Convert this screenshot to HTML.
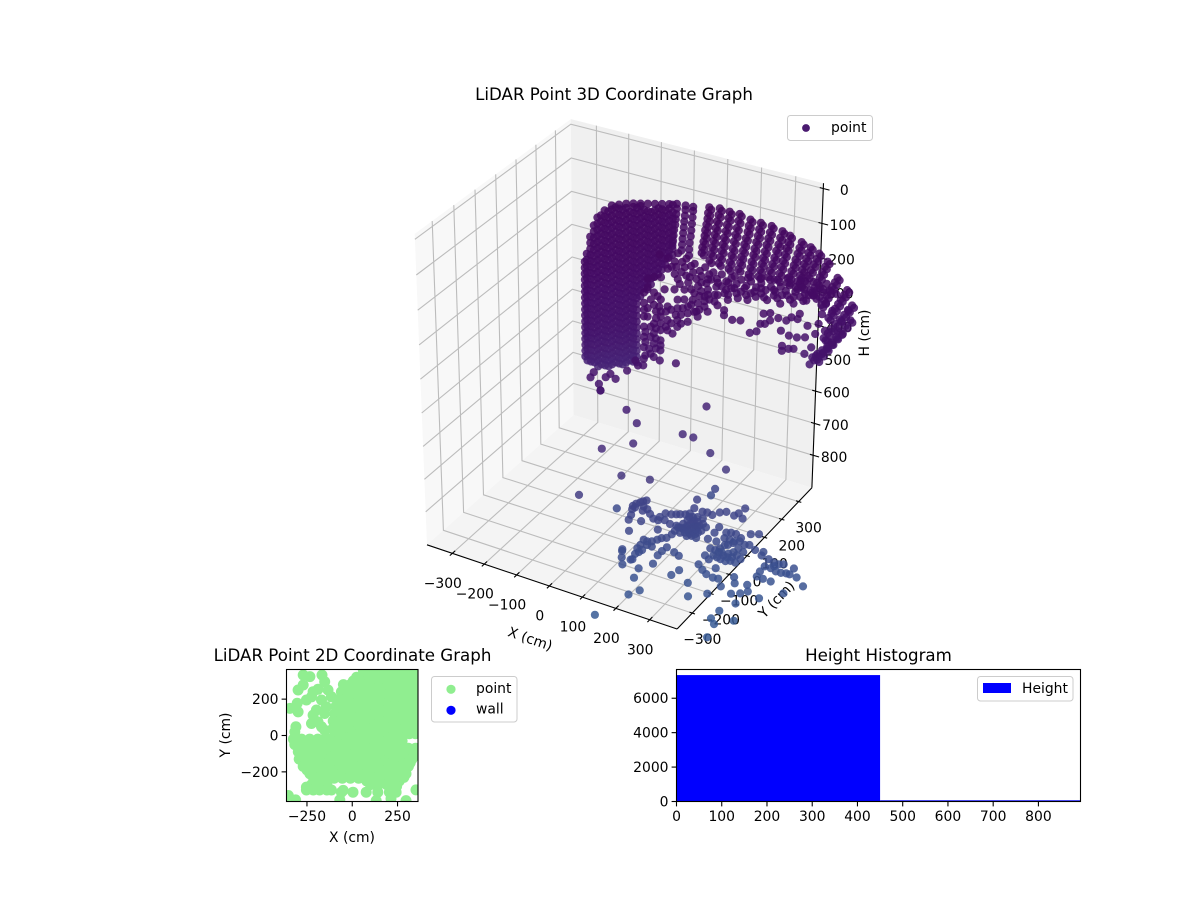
<!DOCTYPE html>
<html lang="en">
<head>
<meta charset="utf-8">
<title>LiDAR Point Graphs</title>
<style>
html,body{margin:0;padding:0;background:#fff;width:1200px;height:900px;overflow:hidden}
svg{display:block}
text{font-family:"DejaVu Sans","Liberation Sans",sans-serif;fill:#000}
.t{font-size:13.9px}
.h{font-size:16.67px}
</style>
</head>
<body>
<svg id="fig" xmlns="http://www.w3.org/2000/svg" width="1200" height="900" viewBox="0 0 1200 900">
<rect width="1200" height="900" fill="#fff"/>
<g id="panes3d"></g>
<g id="grid3d"></g>
<g id="axes3d"></g>
<text class="h" x="614" y="100" text-anchor="middle">LiDAR Point 3D Coordinate Graph</text>
<text class="t" text-anchor="middle" dominant-baseline="central" transform="translate(530 639.5) rotate(19)">X (cm)</text>
<text class="t" text-anchor="middle" dominant-baseline="central" transform="translate(777 600) rotate(-46)">Y (cm)</text>
<text class="t" text-anchor="middle" dominant-baseline="central" transform="translate(865 333) rotate(-90)">H (cm)</text>
<g id="points3d"></g>
<g>
<rect x="787.5" y="115.5" width="85" height="25" rx="3" fill="#fff" fill-opacity=".8" stroke="#ccc"/>
<circle cx="806" cy="128" r="3.9" fill="#4a1a70"/>
<text class="t" x="831" y="132">point</text>
</g>

<text class="h" x="352.5" y="661" text-anchor="middle">LiDAR Point 2D Coordinate Graph</text>
<defs><clipPath id="planClip"><rect x="286" y="669.5" width="132" height="132"/></clipPath></defs>
<g id="plan"></g>
<text class="t" x="352" y="842" text-anchor="middle">X (cm)</text>
<text class="t" text-anchor="middle" transform="translate(230 735) rotate(-90)">Y (cm)</text>
<g>
<rect x="431.5" y="676.5" width="85.5" height="45.5" rx="3" fill="#fff" stroke="#ccc"/>
<circle cx="451" cy="689.3" r="4.6" fill="#90ee90"/>
<text class="t" x="476" y="693">point</text>
<circle cx="451" cy="710.3" r="4.6" fill="#0000ff"/>
<text class="t" x="476" y="713.5">wall</text>
</g>

<text class="h" x="878.5" y="661" text-anchor="middle">Height Histogram</text>
<g id="hist"></g>
<g>
<rect x="977.5" y="676.5" width="95.5" height="24.5" rx="3" fill="#fff" fill-opacity=".8" stroke="#ccc"/>
<rect x="983" y="683" width="28" height="10" fill="#0000ff"/>
<text class="t" x="1022" y="693">Height</text>
</g>
</svg>
<script>
/* ---------- 3D axis values ---------- */
const xLimits = [-380, 380];
const yLimits = [-380, 380];
const hLimits = [-15, 903];
const xTickValues = [-300, -200, -100, 0, 100, 200, 300];
const yTickValues = [-300, -200, -100, 0, 100, 200, 300];
const hTickValues = [0, 100, 200, 300, 400, 500, 600, 700, 800];

/* Dense dome: each column is [x, y, [h, h, ...]] */
const domeColumns = [
[-220,180,[279,297,315,333,351,369,387,405,423,441,459,477,495,513,531,549,567]],
[-216,184,[256,274,292,310,328,346,364,382,400,418,436,454,472,490,508,526,544,562,580]],
[-209,191,[207,225,243,261,279,297,315,333,351,369,387,405,423,441,459,477,495,513,531,549,567,585]],
[-202,198,[175,193,211,229,247,265,283,301,319,337,355,373,391,409,427,445,463,481,499,517,535,553,571,589]],
[-195,205,[153,171,189,207,225,243,261,279,297,315,333,351,369,387,405,423,441,459,477,495,513,531,549,567,585,603]],
[-188,212,[148,166,184,202,220,238,256,274,292,310,328,346,364,382,400,418,436,454,472,490,508,526,544,562,580,598]],
[-181,219,[135,153,171,189,207,225,243,261,279,297,315,333,351,369,387,405,423,441,459,477,495,513,531,549,567,585,603]],
[-174,226,[139,157,175,193,211,229,247,265,283,301,319,337,355,373,391,409,427,445,463,481,499,517,535,553,571,589,607]],
[-167,233,[123,135,153,171,189,207,225,243,261,279,297,315,333,351,369,387,405,423,441,459,477,495,513,531,549,567,585,603]],
[-160,240,[130,148,166,184,202,220,238,256,274,292,310,328,346,364,382,400,418,436,454,472,490,508,526,544,562,580,598]],
[-153,247,[123,135,153,171,189,207,225,243,261,279,297,315,333,351,369,387,405,423,441,459,477,495,513,531,549,567,585,603]],
[-146,254,[139,157,175,193,211,229,247,265,283,301,319,337,355,373,391,409,427,445,463,481,499,517,535,553,571,589,607]],
[-139,261,[123,135,153,171,189,207,225,243,261,279,297,315,333,351,369,387,405,423,441,459,477,495,513,531,549,567,585,603]],
[-132,268,[148,166,184,202,220,238,256,274,292,310,328,346,364,382,400,418,436,454,472,490,508,526,544,562,580,598]],
[-125,275,[125,135,153,171,189,207,225,243,261,279,297,315,333,351,369,387,405,423,441,459,477,495,513,531,549,567,585,603]],
[-118,282,[139,157,175,193,211,229,247,265,283,301,319,337,355,373,391,409,427,445,463,481,499,517,535,553,571,589,607]],
[-111,289,[128,135,153,171,189,207,225,243,261,279,297,315,333,351,369,387,405]],
[-104,296,[148,166,184,202,220,238,256,274,292,310,328,346,364,382]],
[-97,303,[131,153,171,189,207,225,243,261,279,297,315,333,351,369,387]],
[-90,310,[157,175,193,211,229,247,265,283,301,319,337,355,373]],
[-83,317,[134,153,171,189,207,225,243,261,279,297,315,333,351]],
[-76,324,[148,166,184,202,220,238,256,274,292,310,328,346]],
[-69,331,[137,153,171,189,207,225,243,261,279,297,315,333]],
[-62,338,[157,175,193,211,229,247,265,283,301,319]],
[-55,345,[140,153,171,189,207,225,243,261,279,297]],
[-48,352,[143,166,184,202,220,238,256,274,292]],
[-40,360,[142,156]],[-41,359,[172]],[-42,358,[187]],[-43,357,[203]],[-45,355,[218]],[-46,354,[234]],[-47,353,[250]],[-48,352,[265]],
[-23,377,[150,163]],[-24,376,[180]],[-25,375,[197]],[-26,374,[214]],[-27,373,[231]],[-28,372,[248]],[-29,371,[265]],[-30,370,[282]],
[-8,392,[157,169]],[-9,391,[188]],[-10,390,[207]],[-11,389,[226]],[-12,388,[244]],[-14,386,[263]],[-15,385,[282]],[-15,385,[301]]
];

/* Ridge strands running across the ceiling: [x, y, h] */
const strandPoints = [
[163,163,13],[161,161,29],[160,160,45],[158,158,61],[156,156,77],[155,155,93],[153,153,109],[151,151,125],[150,150,141],
[183,183,20],[181,181,38],[178,178,56],[176,176,75],[174,174,93],[172,172,111],[170,170,129],[168,168,147],[165,165,166],
[202,202,33],[200,200,51],[197,197,69],[195,195,87],[192,192,106],[190,190,124],[188,188,142],[185,185,160],[183,183,178],
[221,221,43],[219,219,62],[216,216,82],[214,214,101],[211,211,120],[209,209,140],[207,207,159],[204,204,178],[202,202,197],
[242,242,63],[239,239,80],[237,237,97],[234,234,115],[231,231,132],[229,229,150],[226,226,167],[224,224,184],[221,221,202],
[262,262,76],[259,259,94],[257,257,112],[254,254,130],[251,251,148],[249,249,166],[246,246,185],[244,244,203],[241,241,221],
[283,283,89],[280,280,107],[277,277,124],[274,274,142],[271,271,160],[268,268,178],[266,266,195],[263,263,213],[260,260,231],
[304,304,108],[300,300,126],[297,297,145],[293,293,163],[290,290,182],[286,286,200],[282,282,218],[279,279,237],
[319,319,124],[316,316,142],[313,313,159],[310,310,177],[307,307,195],[304,304,212],[301,301,230],[298,298,248],
[342,342,147],[338,338,163],[335,335,179],[331,331,196],[328,328,212],[324,324,228],[320,320,245],[317,317,261],
[360,360,165],[356,356,181],[352,352,197],[348,348,212],[345,345,228],[341,341,244],[337,337,260],[333,333,276],
[377,377,187],[372,372,202],[367,367,217],[362,362,233],[356,356,248],[351,351,263],[346,346,279],
[394,394,214],[389,389,228],[384,384,243],[380,380,257],[375,375,272],[370,370,286],[365,365,300],
[415,415,266],[410,410,278],[405,405,291],[400,400,303],[395,395,315],[390,390,328],[385,385,340],
[435,435,306],[429,429,319],[423,423,331],[418,418,344],[412,412,357],[406,406,370],[400,400,382],
[446,446,354],[438,438,366],[431,431,379],[423,423,391],[415,415,403],[407,407,416],[400,400,428],[392,392,441],
[444,444,398],[435,435,413],[426,426,428],[417,417,443],[408,408,458],[399,399,474],[390,390,489],[381,381,504],
[429,429,439],[419,419,448],[410,410,458],[400,400,467],[390,390,477],[381,381,486],[371,371,495],
[410,410,465],[401,401,475],[392,392,485],[384,384,495],[375,375,505],[366,366,515]
];

/* Neighbouring returns beside each strand: [x, y, h] */
const strandSidePoints = [
[167,167,21],[165,165,37],[164,164,53],[162,162,69],[160,160,85],[159,159,101],[157,157,117],[155,155,133],[154,154,149],
[187,187,28],[185,185,46],[182,182,64],[180,180,83],[178,178,101],[176,176,119],[174,174,137],[172,172,155],[169,169,174],
[206,206,41],[204,204,59],[201,201,77],[199,199,95],[196,196,114],[194,194,132],[192,192,150],[189,189,168],[187,187,186],
[225,225,51],[223,223,70],[220,220,90],[218,218,109],[215,215,128],[213,213,148],[211,211,167],[208,208,186],[206,206,205],
[246,246,71],[243,243,88],[241,241,105],[238,238,123],[235,235,140],[233,233,158],[230,230,175],[228,228,192],[225,225,210],
[266,266,84],[263,263,102],[261,261,120],[258,258,138],[255,255,156],[253,253,174],[250,250,193],[248,248,211],[245,245,229],
[287,287,97],[284,284,115],[281,281,132],[278,278,150],[275,275,168],[272,272,186],[270,270,203],[267,267,221],[264,264,239],
[308,308,116],[304,304,134],[301,301,153],[297,297,171],[294,294,190],[290,290,208],[286,286,226],[283,283,245],
[323,323,132],[320,320,150],[317,317,167],[314,314,185],[311,311,203],[308,308,220],[305,305,238],[302,302,256],
[346,346,155],[342,342,171],[339,339,187],[335,335,204],[332,332,220],[328,328,236],[324,324,253],[321,321,269],
[364,364,173],[360,360,189],[356,356,205],[352,352,220],[349,349,236],[345,345,252],[341,341,268],[337,337,284],
[381,381,195],[376,376,210],[371,371,225],[366,366,241],[360,360,256],[355,355,271],[350,350,287],
[398,398,222],[393,393,236],[388,388,251],[384,384,265],[379,379,280],[374,374,294],[369,369,308],
[419,419,274],[414,414,286],[409,409,299],[404,404,311],[399,399,323],[394,394,336],[389,389,348],
[439,439,314],[433,433,327],[427,427,339],[422,422,352],[416,416,365],[410,410,378],[404,404,390],
[450,450,362],[442,442,374],[435,435,387],[427,427,399],[419,419,411],[411,411,424],[404,404,436],[396,396,449],
[448,448,406],[439,439,421],[430,430,436],[421,421,451],[412,412,466],[403,403,482],[394,394,497],[385,385,512]
];

/* Tangled returns below the strands: [x, y, h] */
const tanglePoints = [
[105,105,133],[121,121,152],[137,137,170],[157,157,184],[173,173,202],[189,189,211],[208,208,225],[227,227,234],[246,246,243],[266,266,252],[285,285,266],[304,304,270],[323,323,264],[343,343,278],[362,362,292],[381,381,287],[394,394,279],
[150,150,208],[169,169,222],[189,189,246],[208,208,255],[227,227,269],[246,246,278],[266,266,282],[291,291,293],[317,317,298],[343,343,308],[368,368,309],[387,387,303],
[118,118,176],[134,134,194],[105,105,208],[125,125,222],[144,144,236],[163,163,250],[176,176,268],[202,202,273],[221,221,287],[240,240,296],[278,278,304],[304,304,320],[330,330,325],[355,355,321],
[41,41,364],[60,60,358],[86,86,354],[105,105,348],[125,125,337],[144,144,326],[163,163,315],[182,182,300],[202,202,288],[112,112,340],[96,96,366],[137,137,310],[157,157,299],
[99,99,237],[118,118,241],[105,105,268],[93,93,295],[137,137,255],[125,125,292],[157,157,269],[144,144,286],[112,112,314],[73,73,311],[60,60,329],[48,48,306],[54,54,337],[67,67,250],[54,54,257],[73,73,261],[48,48,281],[70,70,281],[80,80,233],[99,99,192],[48,48,196],
[41,41,395],[60,60,388],[73,73,381],[73,73,411],[41,41,429],[72,72,441],[103,103,456],[54,54,417],[25,25,431],[54,54,367],[73,73,351],[41,41,334],[41,41,304],[41,41,264],
[195,195,317],[195,195,332],[211,211,349],[227,227,354],[246,246,395],[259,259,393],[266,266,372],[275,275,374],[272,272,343],[285,285,344],[285,285,366],[301,301,362],[307,307,401],[317,317,373],[327,327,365],[323,323,419],[339,339,428],[343,343,358],[359,359,397],[355,355,431],[310,310,447],[310,310,462],[323,323,459],[333,333,461],[355,355,481],[339,339,373],[381,381,396],[368,368,464],[378,378,491],[375,375,425],[400,400,451],[419,419,425],[439,439,369],[426,426,396],[394,394,419],[387,387,368],[407,407,362],[394,394,339],[413,413,313],
[-61,-61,463],[-45,-45,486],[-42,-42,507],[-13,-13,478],[-55,-55,449],[-23,-23,461],[9,9,458],[-32,-32,469],
[113,113,160],[130,130,175],[147,147,192],[165,165,206],[180,180,222],[198,198,233],[218,218,244],[237,237,254],[256,256,262],[275,275,274],[294,294,283],[314,314,284],[333,333,291],[352,352,300],[371,371,300],[387,387,293],
[102,102,172],[121,121,201],[141,141,215],[160,160,231],[179,179,245],[198,198,258],[218,218,272],[237,237,281],[256,256,290],[272,272,295],[298,298,303],[323,323,312],[349,349,321],[375,375,320],
[93,93,170],[86,86,174],[73,73,196],[60,60,193],[48,48,220],[60,60,238],[41,41,234],[134,134,274],[150,150,252],[166,166,280],[182,182,270],[195,195,267],[176,176,288],[157,157,283],[141,141,310],[125,125,312],[105,105,293],[83,83,298],[93,93,335],[73,73,331],[105,105,328],
[44,44,350],[64,64,344],[44,44,380],[64,64,374],[51,51,401],[64,64,404],[44,44,420],[60,60,428],[73,73,396],[30,30,447],[40,40,449],[83,83,343],[64,64,314],[41,41,284],
[73,73,296],[60,60,274],[86,86,284],[102,102,312],[115,115,295],[131,131,288],[147,147,306],[86,86,324],[64,64,294],[118,118,270],[147,147,266],[163,163,265],[131,131,243],[109,109,223],[128,128,207],[112,112,189],[99,99,156],[86,86,144],[70,70,130],
[214,214,256],[234,234,260],[253,253,274],[266,266,267],[291,291,277],[307,307,295],[330,330,305],[359,359,306],[381,381,316],[400,400,300],[202,202,238],[182,182,234],[163,163,220],[150,150,227],[214,214,221],[240,240,231],[266,266,237],[291,291,247],[317,317,248],[343,343,258],[368,368,268]
];

/* Sparse points falling through the room: [x, y, h] */
const fallingPoints = [
[-42,-42,506],[8,8,576],[28,28,621],[164,164,600],[118,118,675],[139,139,690],[21,21,682],[-40,-40,684],[173,173,746],[205,205,805],[-2,-2,776],[54,54,802],[-85,-85,817],[184,184,861],[176,176,880],[-11,-11,877]
];

/* Floor returns: [x, y, h] */
const floorPoints = [
[63,21,846],[57,13,846],[52,6,847],[45,-4,848],[41,-15,850],[46,-27,852],[49,-17,851],[67,-3,850],[81,-7,852],[73,-18,853],[96,-19,855],[57,-65,860],[54,-47,856],[88,-53,861],[78,-100,868],
[112,-29,859],[126,-28,860],[124,-15,858],[131,4,855],[146,9,856],[157,16,856],[166,21,856],[178,28,856],[187,36,855],[188,59,851],[179,91,845],[213,59,854],[226,62,854],[242,61,856],[255,79,854],[269,90,854],[293,89,857],[300,102,855],[318,90,859],[306,127,852],
[200,29,858],[211,35,858],[226,37,859],[194,11,860],[209,13,861],[220,19,861],[190,-6,863],[204,-6,864],[219,-4,865],[230,2,865],[236,20,863],[185,-24,865],[199,-23,866],[213,-22,868],[229,-21,869],[240,-15,869],[183,-39,868],[199,-39,869],[220,-41,871],[231,-34,871],[245,-34,873],[244,-4,868],[249,13,865],[160,-24,863],[141,-19,860],[142,-58,867],[183,-55,870],[177,-73,873],[166,-80,873],[159,-91,874],
[207,3,863],[222,4,864],[202,-14,865],[216,-14,866],[230,-9,867],[191,-23,865],[210,-32,869],[223,-29,870],[236,-24,870],[178,-21,864],[231,10,864],[210,20,860],[192,24,858],
[150,-104,875],[139,-110,875],[128,-109,874],[130,-130,878],[129,-145,880],[143,-144,881],[134,-165,884],[137,-185,888],[134,-189,888],[139,-154,883],[145,-121,878],[159,-120,879],[96,-167,881],[99,-173,882],[110,-194,886],[124,-215,891],[195,-103,879],[190,-121,882],[220,-108,883],[188,-140,885],[237,-114,885],[192,-172,891],[168,-206,894],[253,-183,899],[263,-159,895],[174,-241,900],[209,-272,909],[191,-299,912],[151,-403,926],
[279,31,865],[278,7,869],[274,-22,873],[298,-19,875],[305,23,869],[316,29,869],[330,31,870],[348,25,873],[310,3,873],[325,5,874],[339,5,875],[364,50,870],[383,61,870],[368,8,878],[379,14,878],[401,5,881],[423,10,883],[296,-49,880],[310,-48,881],[318,-36,880],[323,-19,878],[296,-78,885],[311,-85,888],[315,-67,885],[321,-49,883],[338,-54,885],[346,-42,884],[355,-30,883],[360,-12,880],[377,-17,883],[337,-69,888],[352,-69,889],[363,-62,889],[377,-61,890],[383,-43,888],[342,-104,894],[297,-115,891],[315,-127,895],[331,-135,898],[352,-138,900],[366,-134,901],[385,-155,906],[399,-108,900],[411,-127,904],[442,-116,905],[454,-135,910],[440,-151,911],[420,-164,911],[304,-186,904],[328,-228,913],[367,-195,911],[446,-188,918],[490,-141,915],[422,-231,923],[416,-265,928],[432,-278,932],[470,-242,930],[438,-326,941],
[328,-45,883],[350,-55,886],[361,-49,886],[327,-69,886],[368,-36,885],[330,-14,878],[339,-2,876],[351,12,875],
[425,-4,885],[447,-6,888],[464,-10,890],[479,-10,891],[490,-3,891],[520,-3,894],[541,-28,900],[570,-48,906],[537,-95,911],[489,-74,903],[467,-76,901],[449,-76,900],[448,-57,896],[450,-34,893],[467,-32,894],[484,-36,896],[498,-34,897],[511,-29,897],[520,-27,898],[471,-21,893]
];

/* Colour ramp anchors over height: [h, r, g, b] */
const heightColorStops = [[0,68,6,92],[300,68,10,100],[500,68,20,108],[620,70,38,120],[800,69,57,127],[860,63,70,137],[930,55,91,149]];

/* ---------- 2D plan view values: [x, y] ---------- */
const planXTicks = [-250, 0, 250];
const planYTicks = [-200, 0, 200];
const planLimits = [-363, 363];
const planPoints = [
[61,360],[90,360],[135,360],[180,360],[225,360],[270,360],[315,360],[360,360],
[67,340],[112,340],[157,340],[202,340],[247,340],[292,340],[337,340],
[24,320],[67,320],[112,320],[157,320],[202,320],[247,320],[292,320],[337,320],[370,320],
[6,300],[45,300],[90,300],[135,300],[180,300],[225,300],[270,300],[315,300],[360,300],
[-49,280],[-10,280],[35,280],[80,280],[125,280],[170,280],[215,280],[260,280],[305,280],[350,280],
[-30,260],[15,260],[60,260],[105,260],[150,260],[195,260],[240,260],[285,260],[330,260],
[-60,240],[-15,240],[30,240],[75,240],[120,240],[165,240],[210,240],[255,240],[300,240],[345,240],
[-40,220],[5,220],[50,220],[95,220],[140,220],[185,220],[230,220],[275,220],[320,220],[365,220],
[-70,200],[-25,200],[20,200],[65,200],[110,200],[155,200],[200,200],[245,200],[290,200],[335,200],[370,200],
[-65,180],[-20,180],[25,180],[70,180],[115,180],[160,180],[205,180],[250,180],[295,180],[340,180],
[-90,160],[-45,160],[0,160],[45,160],[90,160],[135,160],[180,160],[225,160],[270,160],[315,160],[360,160],
[-70,140],[-25,140],[20,140],[65,140],[110,140],[155,140],[200,140],[245,140],[290,140],[335,140],
[-97,120],[-52,120],[-7,120],[38,120],[83,120],[128,120],[173,120],[218,120],[263,120],[308,120],[353,120],
[-90,100],[-45,100],[0,100],[45,100],[90,100],[135,100],[180,100],[225,100],[270,100],[315,100],[360,100],
[-105,80],[-70,80],[-25,80],[20,80],[65,80],[110,80],[155,80],[200,80],[245,80],[290,80],[335,80],[370,80],
[-90,60],[-45,60],[0,60],[45,60],[90,60],[135,60],[180,60],[225,60],[270,60],[315,60],[360,60],
[-105,40],[-70,40],[-25,40],[20,40],[65,40],[110,40],[155,40],[200,40],[245,40],[290,40],[335,40],
[-100,25],[-55,25],[-10,25],[35,25],[80,25],[125,25],[170,25],[215,25],[260,25],[305,25],[345,25],
[-90,10],[-45,10],[0,10],[45,10],[90,10],[135,10],[180,10],[225,10],[270,10],[315,10],[350,10],
[-325,-20],[-280,-20],[-235,-20],[-190,-20],[-145,-15],[-100,-10],[-55,-10],[-10,-10],[35,-10],[80,-10],[125,-10],[170,-10],[215,-10],[260,-10],
[-295,-30],[-250,-30],[-205,-30],[-160,-30],[-115,-30],[-70,-30],[-25,-30],[20,-30],[65,-30],[110,-30],[155,-30],[200,-30],[245,-30],[275,-30],
[-317,-50],[-272,-50],[-227,-50],[-182,-50],[-137,-50],[-92,-50],[-47,-50],[-2,-50],[43,-50],[88,-50],[133,-50],[178,-50],[223,-50],[268,-50],[310,-70],[350,-70],
[-295,-70],[-250,-70],[-205,-70],[-160,-70],[-115,-70],[-70,-70],[-25,-70],[20,-70],[65,-70],[110,-70],[155,-70],[200,-70],[245,-70],[290,-70],
[-298,-90],[-253,-90],[-208,-90],[-163,-90],[-118,-90],[-73,-90],[-28,-90],[17,-90],[62,-90],[107,-90],[152,-90],[197,-90],[242,-90],[287,-90],[335,-90],
[-275,-110],[-230,-110],[-185,-110],[-140,-110],[-95,-110],[-50,-110],[-5,-110],[40,-110],[85,-110],[130,-110],[175,-110],[220,-110],[265,-110],[310,-110],[350,-110],
[-293,-130],[-248,-130],[-203,-130],[-158,-130],[-113,-130],[-68,-130],[-23,-130],[22,-130],[67,-130],[112,-130],[157,-130],[202,-130],[247,-130],[292,-130],[330,-130],
[-270,-150],[-225,-150],[-180,-150],[-135,-150],[-90,-150],[-45,-150],[0,-150],[45,-150],[90,-150],[135,-150],[180,-150],[225,-150],[270,-150],[320,-150],
[-271,-170],[-226,-170],[-181,-170],[-136,-170],[-91,-170],[-46,-170],[-1,-170],[44,-170],[89,-170],[134,-170],[179,-170],[224,-170],[269,-170],[310,-170],
[-250,-190],[-205,-190],[-160,-190],[-115,-190],[-25,-190],[20,-190],[65,-190],[110,-190],[155,-190],[200,-190],[245,-190],[290,-190],
[-234,-210],[-189,-210],[-144,-210],[-99,-210],[-54,-210],[-9,-210],[36,-210],[81,-210],[126,-210],[171,-210],[216,-210],[261,-210],[297,-210],
[-215,-230],[-170,-230],[-125,-230],[60,-230],[105,-230],[150,-230],[195,-230],[240,-230],[285,-230],
[-205,-250],[-160,-250],[-100,-235],[-55,-235],[-10,-235],[35,-235],[80,-250],[125,-250],[170,-250],[215,-250],[260,-250],
[-225,-270],[-180,-270],[-140,-270],[100,-270],[145,-270],[190,-270],[235,-270],
[-253,-284],[-198,-284],[-143,-293],[-50,-302],[-60,-312],[4,-312],[77,-312],[141,-312],[205,-312],[242,-312],[245,-280],
[-253,-300],[-215,-300],[-180,-300],[-140,-300],[-115,-300],
[297,-358],[132,-358],[214,-348],[352,-299],[-69,-354],[-353,-330],[-313,-354],
[-271,333],[-234,324],[-167,333],[-152,296],[-134,250],[-115,213],[-299,250],[-271,278],[-304,177],[-299,130],[-344,149],[-253,195],[-216,241],[-189,254],[-225,213],[-170,195],[-198,140],[-216,112],[-143,158],[-152,121],[-225,66],[-189,75],[-170,48],[-152,29],[-311,48],[-317,20]
];

/* ---------- Histogram values ---------- */
const histogramEdges = [0, 450, 893];
const histogramCounts = [7346, 70];
const histXTicks = [0, 100, 200, 300, 400, 500, 600, 700, 800];
const histYTicks = [0, 2000, 4000, 6000];
const histXMax = 893;
const histYMax = 7670;

const SVGNS = 'http://www.w3.org/2000/svg';
function make(parent, tag, attrs, content) {
  const n = document.createElementNS(SVGNS, tag);
  for (const k in attrs) n.setAttribute(k, attrs[k]);
  if (content !== undefined) n.textContent = content;
  parent.appendChild(n);
  return n;
}
const minus = v => String(v).replace('-', '\u2212');

/* 3D projection */
function depthOf(x, y, h) {
  const X = (x - (xLimits[0] + xLimits[1]) / 2) / (xLimits[1] - xLimits[0]);
  const Y = (y - (yLimits[0] + yLimits[1]) / 2) / (yLimits[1] - yLimits[0]);
  const Z = ((hLimits[0] + hLimits[1]) / 2 - h) / (hLimits[1] - hLimits[0]) * 1.2;
  return { X, Y, Z, w: 0.433 * X - 0.75 * Y + 0.5 * Z };
}
function project(x, y, h) {
  const d = depthOf(x, y, h);
  const u = 0.866 * d.X + 0.5 * d.Y;
  const v = -0.25 * d.X + 0.433 * d.Y + 0.866 * d.Z;
  const s = 10 / (10 - d.w);
  return [622.4 + 290.2 * s * u, 366.6 - 295.8 * s * v];
}
function path3d(list) {
  return list.map((p, i) => { const q = project(p[0], p[1], p[2]); return (i ? 'L' : 'M') + q[0].toFixed(1) + ' ' + q[1].toFixed(1); }).join('');
}
const x0 = xLimits[0], x1 = xLimits[1], y0 = yLimits[0], y1 = yLimits[1], hTop = hLimits[0], hBot = hLimits[1];

const panes = document.getElementById('panes3d');
const paneLeft = make(panes, 'path', { d: path3d([[x0,y0,hTop],[x0,y1,hTop],[x0,y1,hBot],[x0,y0,hBot]]) + 'Z', fill: '#f8f8f8' });


const paneBack = make(panes, 'path', { d: path3d([[x0,y1,hTop],[x1,y1,hTop],[x1,y1,hBot],[x0,y1,hBot]]) + 'Z', fill: '#f0f0f0' });


const paneFloor = make(panes, 'path', { d: path3d([[x0,y0,hBot],[x1,y0,hBot],[x1,y1,hBot],[x0,y1,hBot]]) + 'Z', fill: '#f4f4f4' });



const grid = document.getElementById('grid3d');
const gridStyle = { fill: 'none', stroke: '#bcbcbc', 'stroke-width': 1.1 };
xTickValues.forEach(t => {
  const g = make(grid, 'path', Object.assign({ d: path3d([[t,y0,hBot],[t,y1,hBot],[t,y1,hTop]]) }, gridStyle));
  
  
});
yTickValues.forEach(t => {
  const g = make(grid, 'path', Object.assign({ d: path3d([[x1,t,hBot],[x0,t,hBot],[x0,t,hTop]]) }, gridStyle));
  
  
});
hTickValues.forEach(t => {
  const g = make(grid, 'path', Object.assign({ d: path3d([[x0,y0,t],[x0,y1,t],[x1,y1,t]]) }, gridStyle));
  
  
});

const axes = document.getElementById('axes3d');
const axisStyle = { fill: 'none', stroke: '#000', 'stroke-width': 1.1 };
const axisX = make(axes, 'path', Object.assign({ d: path3d([[x0,y0,hBot],[x1,y0,hBot]]) }, axisStyle));


const axisY = make(axes, 'path', Object.assign({ d: path3d([[x1,y0,hBot],[x1,y1,hBot]]) }, axisStyle));


const axisH = make(axes, 'path', Object.assign({ d: path3d([[x1,y1,hBot],[x1,y1,hTop]]) }, axisStyle));



function label3d(p, dx, dy, value) {
  return make(axes, 'text', { class: 't', x: (p[0] + dx).toFixed(1), y: (p[1] + dy).toFixed(1), 'text-anchor': 'middle', 'dominant-baseline': 'central' }, minus(value));
}
xTickValues.forEach(t => {
  const m = make(axes, 'path', Object.assign({ d: path3d([[t,y0-12,hBot],[t,y0+14,hBot]]) }, axisStyle));
  
  
  const l = label3d(project(t, y0, hBot), -9.5, 30.5, t);
  
  
});
yTickValues.forEach(t => {
  const m = make(axes, 'path', Object.assign({ d: path3d([[x1-8,t,hBot],[x1+8,t,hBot]]) }, axisStyle));
  
  
  const l = label3d(project(x1, t, hBot), 10, 27, t);
  
  
});
hTickValues.forEach(t => {
  const m = make(axes, 'path', Object.assign({ d: path3d([[x1-10,y1,t],[x1+18,y1,t]]) }, axisStyle));
  
  
  const l = label3d(project(x1, y1, t), 21, 2.5, t);
  
  
});

/* Point cloud */
function colorFor(h) {
  const st = heightColorStops;
  if (h <= st[0][0]) return 'rgb(' + st[0].slice(1).join(',') + ')';
  for (let i = 1; i < st.length; i++) {
    if (h <= st[i][0]) {
      const f = (h - st[i-1][0]) / (st[i][0] - st[i-1][0]);
      const c = [1,2,3].map(k => Math.round(st[i-1][k] + f * (st[i][k] - st[i-1][k])));
      return 'rgb(' + c.join(',') + ')';
    }
  }
  return 'rgb(' + st[st.length-1].slice(1).join(',') + ')';
}
const allPoints = [];
domeColumns.forEach(col => col[2].forEach(h => allPoints.push([col[0], col[1], h])));
strandPoints.forEach(p => allPoints.push(p));
strandSidePoints.forEach(p => allPoints.push(p));
tanglePoints.forEach(p => allPoints.push(p));
fallingPoints.forEach(p => allPoints.push(p));
floorPoints.forEach(p => allPoints.push(p));
allPoints.sort((a, b) => depthOf(a[0],a[1],a[2]).w - depthOf(b[0],b[1],b[2]).w);
const cloud = document.getElementById('points3d');
allPoints.forEach(p => {
  const q = project(p[0], p[1], p[2]);
  const c = make(cloud, 'circle', { cx: q[0].toFixed(1), cy: q[1].toFixed(1), r: 4.1, fill: colorFor(p[2]), 'fill-opacity': 0.85 });
  
  
});

/* 2D plan view */
const plan = document.getElementById('plan');
const planBox = { l: 286.5, r: 418, t: 669.5, b: 801.5 };
const planX = v => planBox.l + (v - planLimits[0]) / (planLimits[1] - planLimits[0]) * (planBox.r - planBox.l);
const planY = v => planBox.b - (v - planLimits[0]) / (planLimits[1] - planLimits[0]) * (planBox.b - planBox.t);
const planBg = make(plan, 'rect', { x: planBox.l, y: planBox.t, width: planBox.r - planBox.l, height: planBox.b - planBox.t, fill: '#fff' });


const planDots = make(plan, 'g', { 'clip-path': 'url(#planClip)' });


planPoints.forEach(p => {
  const c = make(planDots, 'circle', { cx: planX(p[0]).toFixed(1), cy: planY(p[1]).toFixed(1), r: 5.5, fill: '#90ee90' });
  
  
});
const planFrame = make(plan, 'rect', { x: planBox.l, y: planBox.t, width: planBox.r - planBox.l, height: planBox.b - planBox.t, fill: 'none', stroke: '#000', 'stroke-width': 1.1 });


planXTicks.forEach(t => {
  const m = make(plan, 'line', { x1: planX(t), x2: planX(t), y1: planBox.b, y2: planBox.b + 4.9, stroke: '#000', 'stroke-width': 1.1 });
  
  
  const l = make(plan, 'text', { class: 't', x: planX(t), y: 821, 'text-anchor': 'middle' }, minus(t));
  
  
});
planYTicks.forEach(t => {
  const m = make(plan, 'line', { x1: planBox.l - 4.9, x2: planBox.l, y1: planY(t), y2: planY(t), stroke: '#000', 'stroke-width': 1.1 });
  
  
  const l = make(plan, 'text', { class: 't', x: planBox.l - 8, y: planY(t) + 5, 'text-anchor': 'end' }, minus(t));
  
  
});

/* Histogram */
const hist = document.getElementById('hist');
const histBox = { l: 676.5, r: 1080.5, t: 669.5, b: 801.5 };
const histX = v => histBox.l + v / histXMax * (histBox.r - histBox.l);
const histY = v => histBox.b - v / histYMax * (histBox.b - histBox.t);
histogramCounts.forEach((count, i) => {
  const r = make(hist, 'rect', { x: histX(histogramEdges[i]), y: histY(count), width: histX(histogramEdges[i+1]) - histX(histogramEdges[i]), height: histY(0) - histY(count), fill: '#0000ff' });
  
  
});
const histFrame = make(hist, 'rect', { x: histBox.l, y: histBox.t, width: histBox.r - histBox.l, height: histBox.b - histBox.t, fill: 'none', stroke: '#000', 'stroke-width': 1.1 });


histXTicks.forEach(t => {
  const m = make(hist, 'line', { x1: histX(t), x2: histX(t), y1: histBox.b, y2: histBox.b + 4.9, stroke: '#000', 'stroke-width': 1.1 });
  
  
  const l = make(hist, 'text', { class: 't', x: histX(t), y: 821, 'text-anchor': 'middle' }, minus(t));
  
  
});
histYTicks.forEach(t => {
  const m = make(hist, 'line', { x1: histBox.l - 4.9, x2: histBox.l, y1: histY(t), y2: histY(t), stroke: '#000', 'stroke-width': 1.1 });
  
  
  const l = make(hist, 'text', { class: 't', x: histBox.l - 8, y: histY(t) + 5, 'text-anchor': 'end' }, minus(t));
  
  
});
</script>
</body>
</html>
